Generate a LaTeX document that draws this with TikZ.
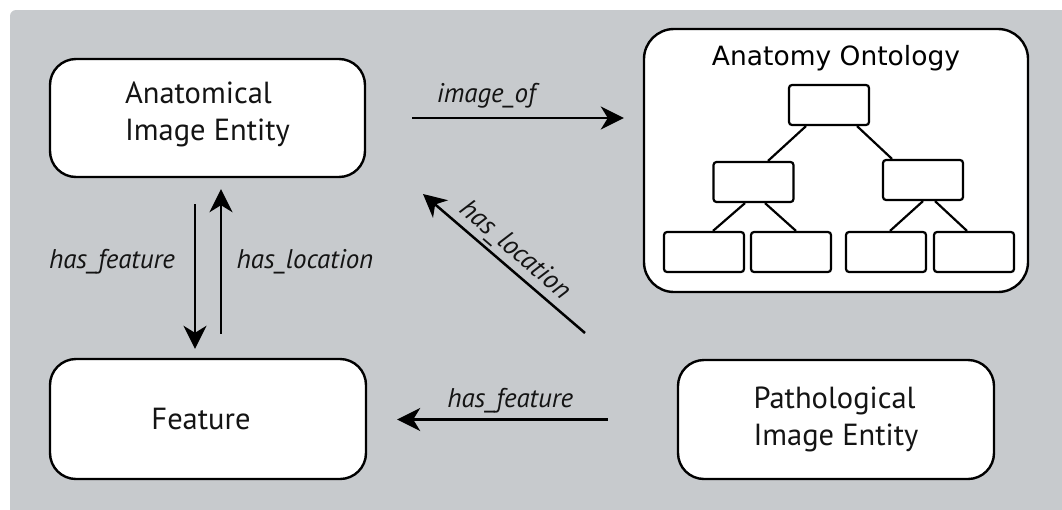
\documentclass[tikz,border=0pt]{standalone}
\usepackage{fontspec}
\setmainfont{PT Sans}
\newfontfamily\titlefont{DejaVu Sans}
\usetikzlibrary{arrows.meta,calc}

\definecolor{panelgray}{RGB}{199,202,205}
\definecolor{inkgray}{RGB}{20,20,20}

\tikzset{
  entity/.style={draw=black, line width=2.4pt, fill=white, rounded corners=26pt,
    inner sep=0pt, text=inkgray, align=left,
    font=\fontsize{30.5}{37}\selectfont},
  treebox/.style={draw=black, line width=2.2pt, fill=white, rounded corners=3pt,
    minimum width=80pt, minimum height=40pt, inner sep=0pt},
  treeline/.style={line width=2.2pt},
  rel/.style={line width=2.5pt, -{Stealth[length=23pt,width=23pt,inset=7pt]}},
  rellabel/.style={font=\fontsize{27}{32}\selectfont\itshape, text=inkgray},
}

\begin{document}
\begin{tikzpicture}[x=1pt,y=1pt]
  \useasboundingbox (0,0) rectangle (1062,-509);
  % panel background
  \fill[panelgray, rounded corners=6pt] (10,-10) rectangle (1075,-522);

  % entity boxes
  \node[entity, minimum width=315pt, minimum height=118pt] (ane) at (207.5,-118)
    {Anatomical\\Image Entity\rule[-14pt]{0pt}{14pt}};
  \node[entity, minimum width=316pt, minimum height=120pt] (feat) at (208,-419)
    {Feature\hspace*{14pt}};
  \node[entity, minimum width=316pt, minimum height=119pt] (path) at (836,-419.5)
    {Pathological\\Image Entity};

  % ontology panel with a small class tree
  \node[draw=black, line width=2.4pt, fill=white, rounded corners=30pt,
    minimum width=384pt, minimum height=263pt, inner sep=0pt] (onto) at (836,-160.5) {};
  \node[font=\titlefont\fontsize{26.5}{30}\selectfont, text=black] (ontotitle) at (836,-58) {Anatomy Ontology};

  \node[treebox] (t)  at (829,-105) {};
  \node[treebox] (ml) at (753.5,-182) {};
  \node[treebox] (mr) at (923,-180) {};
  \node[treebox] (b1) at (704,-252) {};
  \node[treebox] (b2) at (791,-252) {};
  \node[treebox] (b3) at (886,-252) {};
  \node[treebox] (b4) at (974,-252) {};

  \draw[treeline] ([xshift=-23pt]t.south) -- ([xshift=14.5pt]ml.north);
  \draw[treeline] ([xshift=28pt]t.south) -- ([xshift=-31pt]mr.north);
  \draw[treeline] ([xshift=-8.5pt]ml.south) -- ([xshift=9pt]b1.north);
  \draw[treeline] ([xshift=11.5pt]ml.south) -- ([xshift=5pt]b2.north);
  \draw[treeline] (mr.south) -- ([xshift=4pt]b3.north);
  \draw[treeline] ([xshift=12pt]mr.south) -- ([xshift=-7pt]b4.north);

  % relations
  \draw[rel, shorten <=46pt, shorten >=19pt] (ane.east) -- (ane.east -| onto.west)
    node[rellabel, pos=0.434, above=5pt] (lblimg) {image\_of};

  \draw[rel, shorten <=26pt, shorten >=9pt]
    ([xshift=-12.5pt]ane.south) -- ([xshift=-12.5pt]ane.south |- feat.north);
  \draw[rel, shorten <=24pt, shorten >=11pt]
    ([xshift=13.5pt]ane.south |- feat.north) -- ([xshift=13.5pt]ane.south);
  \node[rellabel] (lblhf) at (112,-262) {has\_feature};
  \node[rellabel] (lblhl) at (305,-262) {has\_location};

  \coordinate (hlstart) at (585,-333);
  \coordinate (hlend) at (423,-194);
  \draw[rel] (hlstart) -- (hlend)
    node[rellabel, midway, sloped, above=0pt] (lbldiag) {has\_location};

  \draw[rel, shorten <=69pt, shorten >=30pt] (path.west) -- (path.west -| feat.east)
    node[rellabel, pos=0.538, above=2pt] (lblpf) {has\_feature};
\end{tikzpicture}
\end{document}
